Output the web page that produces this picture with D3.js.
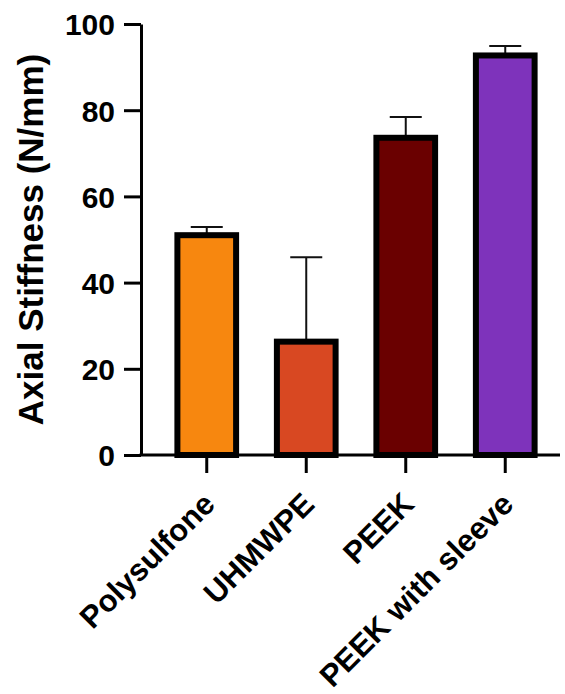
<html>
<head>
<script src="https://d3js.org/d3.v7.min.js"></script>
<style>
  body { margin: 0; background: #fff; }
  text { font-family: "Liberation Sans", Arial, sans-serif; font-weight: bold; fill: #000; }
</style>
</head>
<body>
<svg id="chart" width="565" height="694"></svg>
<script>
  // data
  const materials = ['Polysulfone', 'UHMWPE', 'PEEK', 'PEEK with sleeve'];
  const stiffness = [51, 26.3, 73.6, 92.7];
  const errorUp = [52.9, 45.9, 78.4, 94.9];
  const barColors = ['#F7870F', '#D84822', '#6A0000', '#7E33BB'];
  const yTicks = [0, 20, 40, 60, 80, 100];

  const svg = d3.select('#chart');

  const x0 = 141, xEnd = 560;
  const y = d3.scaleLinear().domain([0, 100]).range([455, 24]);
  const x = d3.scaleBand()
      .domain(materials)
      .range([157, 555])
      .paddingInner(0.41)
      .paddingOuter(0.205);

  const rows = materials.map((m, i) => ({ m, v: stiffness[i], e: errorUp[i], c: barColors[i] }));

  // error bars (only upper half shows)
  const err = svg.append('g');
  err.selectAll('line.stem')
      .data(rows)
      .join('line')
      .attr('x1', d => x(d.m) + x.bandwidth() / 2)
      .attr('x2', d => x(d.m) + x.bandwidth() / 2)
      .attr('y1', d => y(d.v))
      .attr('y2', d => y(d.e))
      .attr('stroke', '#111')
      .attr('stroke-width', 2);
  err.selectAll('line.cap')
      .data(rows)
      .join('line')
      .attr('x1', d => x(d.m) + x.bandwidth() / 2 - 16)
      .attr('x2', d => x(d.m) + x.bandwidth() / 2 + 16)
      .attr('y1', d => y(d.e))
      .attr('y2', d => y(d.e))
      .attr('stroke', '#111')
      .attr('stroke-width', 2);

  // bars
  svg.append('g').selectAll('rect')
      .data(rows)
      .join('rect')
      .attr('x', d => x(d.m))
      .attr('width', x.bandwidth())
      .attr('y', d => y(d.v))
      .attr('height', d => y(0) - y(d.v))
      .attr('fill', d => d.c)
      .attr('stroke', '#000')
      .attr('stroke-width', 6);

  // y axis
  const yAxis = svg.append('g')
      .attr('transform', `translate(${x0},0)`)
      .call(d3.axisLeft(y).tickValues(yTicks).tickSize(17).tickPadding(9).tickSizeOuter(0));
  yAxis.select('.domain').attr('stroke', '#000').attr('stroke-width', 3);
  yAxis.selectAll('.tick line').attr('stroke', '#000').attr('stroke-width', 3);
  yAxis.selectAll('.tick text').style('font-size', '30px').attr('dy', '0.36em');

  // x axis
  svg.append('line')
      .attr('x1', x0 - 1.5).attr('x2', xEnd)
      .attr('y1', y(0)).attr('y2', y(0))
      .attr('stroke', '#000').attr('stroke-width', 3);

  const xt = svg.append('g').selectAll('g')
      .data(materials)
      .join('g')
      .attr('transform', d => `translate(${x(d) + x.bandwidth() / 2},${y(0)})`);
  xt.append('line')
      .attr('y1', 0).attr('y2', 18)
      .attr('stroke', '#000').attr('stroke-width', 3);
  xt.append('text')
      .attr('transform', 'translate(10,51) rotate(-45)')
      .attr('text-anchor', 'end')
      .style('font-size', '31px')
      .text(d => d);

  // y label
  svg.append('text')
      .attr('transform', `translate(43,${(y(0) + y(100)) / 2}) rotate(-90)`)
      .attr('text-anchor', 'middle')
      .style('font-size', '35px')
      .text('Axial Stiffness (N/mm)');
</script>
</body>
</html>
